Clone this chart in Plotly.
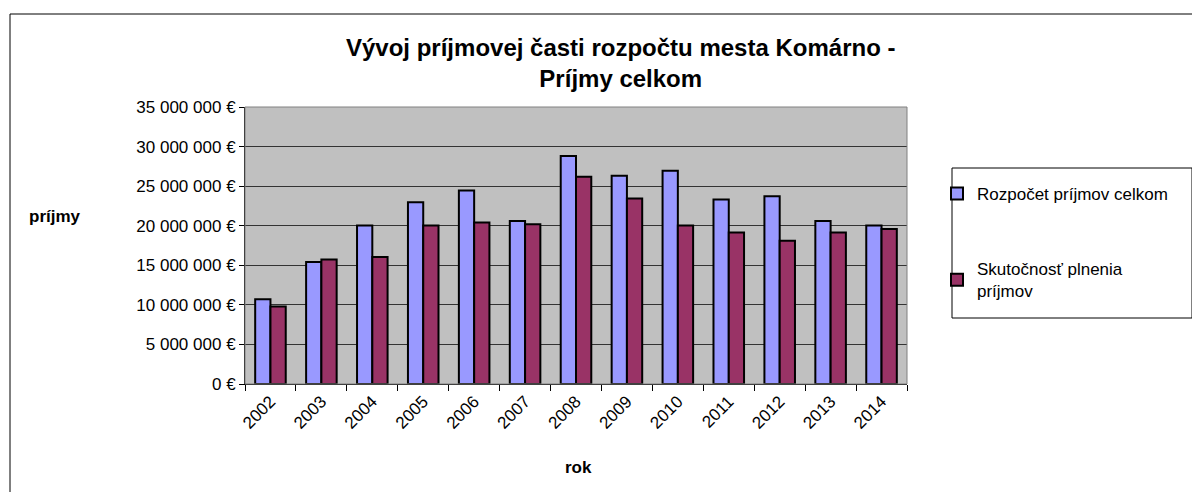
import plotly.graph_objects as go

years = ["2002", "2003", "2004", "2005", "2006", "2007", "2008",
         "2009", "2010", "2011", "2012", "2013", "2014"]
rozpocet = [10.72e6, 15.42e6, 20.04e6, 22.97e6, 24.45e6, 20.59e6, 28.81e6,
            26.31e6, 26.95e6, 23.31e6, 23.73e6, 20.59e6, 20.04e6]
skutocnost = [9.79e6, 15.72e6, 16.06e6, 20.04e6, 20.42e6, 20.17e6, 26.19e6,
              23.43e6, 20.04e6, 19.15e6, 18.09e6, 19.15e6, 19.58e6]

FONT = "Liberation Sans, Arial, sans-serif"

# plot area in page pixels (page has 8px body margin)
PL, PR, PT, PB = 245, 907, 107, 384
PW, PH = PR - PL, PB - PT


def px(x):
    return (x - PL) / PW


def py(y):
    return (PB - y) / PH


fig = go.Figure()
fig.add_trace(go.Bar(x=years, y=rozpocet, name="Rozpočet príjmov celkom",
                     marker=dict(color="#9999FF", line=dict(color="black", width=2)),
                     legendgroup="a"))
fig.add_trace(go.Bar(x=years, y=skutocnost, name="Skutočnosť plnenia<br>príjmov",
                     marker=dict(color="#993366", line=dict(color="black", width=2)),
                     legendgroup="b"))

fig.update_layout(
    width=1200, height=492,
    margin=dict(l=PL - 8, r=1200 - PR + 8, t=PT - 8, b=492 - PB + 8),
    paper_bgcolor="white", plot_bgcolor="#C0C0C0",
    barmode="group", bargap=0.4, bargroupgap=0,
    separators=", ",
    font=dict(family=FONT, size=17, color="black"),
    xaxis=dict(ticks="outside", tickson="boundaries", ticklen=6, tickcolor="black",
               tickangle=-45, showline=True, linecolor="black", linewidth=1,
               tickfont=dict(size=17)),
    yaxis=dict(range=[0, 35e6], dtick=5e6, tickformat=",.0f", ticksuffix=" €",
               ticks="outside", ticklen=5, tickcolor="black",
               showline=True, linecolor="black", linewidth=1,
               gridcolor="#333333", gridwidth=1, tickfont=dict(size=17),
               zeroline=False),
    legend=dict(x=px(937), y=py(176), xanchor="left", yanchor="top",
                traceorder="grouped", tracegroupgap=50,
                bgcolor="rgba(0,0,0,0)", font=dict(size=17),
                itemwidth=30),
    showlegend=True,
)

# title
fig.add_annotation(text="<b>Vývoj príjmovej časti rozpočtu mesta Komárno -<br>Príjmy celkom</b>",
                   xref="paper", yref="paper", x=px(620), y=py(63),
                   xanchor="center", yanchor="middle", showarrow=False,
                   font=dict(size=24))
# axis titles
fig.add_annotation(text="<b>príjmy</b>", xref="paper", yref="paper",
                   x=px(55), y=py(216), xanchor="center", yanchor="middle",
                   showarrow=False, font=dict(size=17))
fig.add_annotation(text="<b>rok</b>", xref="paper", yref="paper",
                   x=px(578), y=py(467), xanchor="center", yanchor="middle",
                   showarrow=False, font=dict(size=17))

# plot area border (top/right)
fig.add_shape(type="rect", xref="paper", yref="paper", x0=0, y0=0, x1=1, y1=1,
              line=dict(color="#808080", width=1), layer="above")
# legend box
fig.add_shape(type="rect", xref="paper", yref="paper",
              x0=px(952), x1=px(1192), y0=py(318), y1=py(168),
              line=dict(color="black", width=1))
# outer chart border
fig.add_shape(type="rect", xref="paper", yref="paper",
              x0=px(10), x1=px(1215), y0=py(500), y1=py(14),
              line=dict(color="black", width=1))

fig.write_html("out.html")
